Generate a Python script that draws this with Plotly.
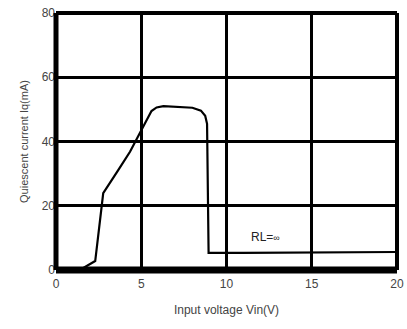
import plotly.graph_objects as go

# Quiescent current vs input voltage, RL = infinity
vin = [0.0, 1.4, 2.3, 2.77, 3.64, 4.34, 5.6, 5.9, 6.3, 7.3, 8.0, 8.5, 8.75, 8.86, 8.95, 11.0, 17.8, 20.0]
iq = [0.0, 0.0, 2.8, 23.9, 31.0, 36.8, 49.5, 50.6, 51.0, 50.8, 50.5, 49.6, 48.0, 45.5, 5.3, 5.3, 5.6, 5.6]

x_ticks = [0, 5, 10, 15, 20]
y_ticks = [0, 20, 40, 60, 80]

font_family = "Liberation Sans, Arial, sans-serif"
txt_color = "#444444"

fig = go.Figure()
fig.add_trace(go.Scatter(
    x=vin, y=iq, mode="lines",
    line=dict(color="black", width=2.2, shape="linear"),
    hoverinfo="skip", showlegend=False,
))

fig.add_annotation(
    x=11.3, y=10.2, xref="x", yref="y", xanchor="left", yanchor="middle",
    text="RL=<span style='font-size:9px'>∞</span>", showarrow=False,
    font=dict(family=font_family, size=12, color="#222222"),
)

# Heavy frame around the plot area
frame = [
    dict(x0=0, x1=0, y0=0, y1=1, w=5),
    dict(x0=0, x1=1, y0=0, y1=0, w=7),
    dict(x0=0, x1=1, y0=1, y1=1, w=4),
    dict(x0=1, x1=1, y0=0, y1=1, w=4),
]
for f in frame:
    fig.add_shape(type="line", xref="paper", yref="paper",
                  x0=f["x0"], x1=f["x1"], y0=f["y0"], y1=f["y1"],
                  line=dict(color="black", width=f["w"]), layer="above")

fig.update_layout(
    width=407, height=329,
    margin=dict(l=56, r=10, t=13, b=59),
    paper_bgcolor="white", plot_bgcolor="white",
    font=dict(family=font_family, size=12, color=txt_color),
    xaxis=dict(
        range=[0, 20], tickvals=x_ticks, ticktext=[str(v) for v in x_ticks],
        showgrid=True, gridcolor="black", gridwidth=3,
        zeroline=False, showline=False, ticks="", automargin=False,
        ticklabelstandoff=5,
        tickfont=dict(size=12, color=txt_color),
        title=dict(text="Input voltage Vin(V)", standoff=15,
                   font=dict(size=12, color=txt_color)),
    ),
    yaxis=dict(
        range=[0, 80], tickvals=y_ticks, ticktext=[str(v) for v in y_ticks],
        showgrid=True, gridcolor="black", gridwidth=3,
        zeroline=False, showline=False, ticks="", automargin=False,
        tickfont=dict(size=12, color=txt_color),
        title=dict(text="Quiescent current Iq(mA)", standoff=10,
                   font=dict(size=11, color=txt_color)),
    ),
)

fig.write_html("out.html")
